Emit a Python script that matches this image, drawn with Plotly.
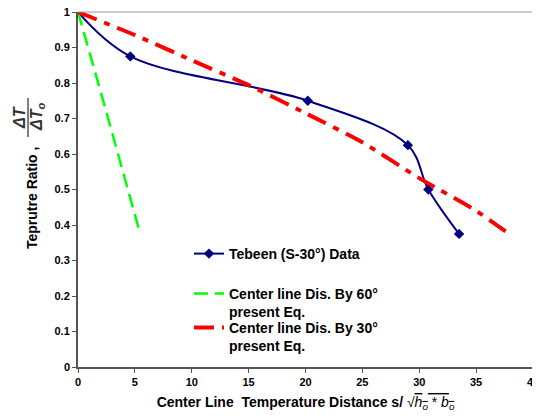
import plotly.graph_objects as go

# Data
tebeen_x = [0, 4.6, 20.2, 29.0, 30.8, 33.5]
tebeen_y = [1.0, 0.875, 0.75, 0.625, 0.5, 0.375]

green_x = [0, 2.2, 5.45]
green_y = [1.0, 0.752, 0.377]

red_x = [0, 5, 10, 15, 20, 25, 30, 35, 37.8]
red_y = [1.0, 0.935, 0.864, 0.794, 0.715, 0.633, 0.532, 0.44, 0.377]

x_ticks = [0, 5, 10, 15, 20, 25, 30, 35, 40]
y_ticks = [0, 0.1, 0.2, 0.3, 0.4, 0.5, 0.6, 0.7, 0.8, 0.9, 1]
y_ticklabels = ["0", "0.1", "0.2", "0.3", "0.4", "0.5", "0.6", "0.7", "0.8", "0.9", "1"]

FONT = "Liberation Sans, Arial, sans-serif"

# page body has an 8px margin: plot area target in window px = x 78..533, y 12..367
OFF = 8
W, H = 540 - OFF, 419 - OFF
PL, PR, PT, PB = 78, 533, 12, 367


def px(xw):
    return (xw - PL) / (PR - PL)


def py(yw):
    return (PB - yw) / (PB - PT)


fig = go.Figure()
fig.add_trace(go.Scatter(
    x=tebeen_x, y=tebeen_y, mode="lines+markers",
    name="<b>Tebeen (S-30°) Data</b>",
    line=dict(color="#000080", width=2, shape="spline", smoothing=1),
    marker=dict(symbol="diamond", size=8, color="#000080"),
    legend="legend"))
fig.add_trace(go.Scatter(
    x=green_x, y=green_y, mode="lines",
    name="<b>Center line Dis. By 60°<br>present Eq.</b>",
    line=dict(color="#00FF00", width=2.5, dash="14px,7px"),
    legend="legend2"))
fig.add_trace(go.Scatter(
    x=red_x, y=red_y, mode="lines",
    name="<b>Center line Dis. By 30°<br>present Eq.</b>",
    line=dict(color="#FF0000", width=4, dash="20px,8px,6px,8px", shape="spline", smoothing=0.6),
    legend="legend3"))

leg_common = dict(xanchor="left", yanchor="middle", bgcolor="rgba(0,0,0,0)",
                  font=dict(size=14, family=FONT, color="black"), itemwidth=30,
                  borderwidth=0, valign="top")

fig.update_layout(
    width=W, height=H,
    margin=dict(l=PL - OFF, r=(W + OFF) - PR, t=PT - OFF, b=(H + OFF) - PB),
    paper_bgcolor="white", plot_bgcolor="white",
    font=dict(family=FONT, size=11, color="black"),
    showlegend=True,
    legend=dict(x=px(189), y=py(254), **leg_common),
    legend2=dict(x=px(189), y=py(303), **leg_common),
    legend3=dict(x=px(189), y=py(337), **leg_common),
    xaxis=dict(range=[0, 40], tickmode="array", tickvals=x_ticks,
               ticktext=[str(v) for v in x_ticks],
               showgrid=False, zeroline=False, showline=True, linecolor="#555555", linewidth=2,
               ticks="outside", ticklen=4, tickcolor="#555555",
               tickfont=dict(size=11, weight="bold"),
               automargin=False, ticklabeloverflow="allow",
               title=dict(text="<b>Center Line  Temperature Distance s/</b> √<span style='text-decoration:overline'><i>h<sub>o</sub></i> * <i>b<sub>o</sub></i></span>",
                          font=dict(size=14), standoff=10)),
    yaxis=dict(range=[0, 1], tickmode="array", tickvals=y_ticks,
               ticktext=[""] + y_ticklabels[1:],
               showgrid=False, zeroline=False, showline=True, linecolor="#555555", linewidth=2,
               ticks="outside", ticklen=4, tickcolor="#555555",
               tickfont=dict(size=11, weight="bold"),
               automargin=False, ticklabeloverflow="allow"),
)

# y=0 tick label, drawn as a paper-referenced annotation at the axis corner
fig.add_annotation(text="<b>" + y_ticklabels[0] + "</b>", xref="paper", yref="paper",
                   x=px(72), y=0.0, xanchor="right", yanchor="middle",
                   showarrow=False, font=dict(size=11, family=FONT, color="#000000"))

# top and right frame lines
fig.add_shape(type="line", xref="paper", yref="paper", x0=0, x1=1, y0=1, y1=1,
              line=dict(color="#999999", width=1))
fig.add_shape(type="line", xref="paper", yref="paper", x0=1, x1=1, y0=0, y1=1,
              line=dict(color="#999999", width=2))

# Y-axis title: text plus fraction
fig.add_annotation(text="<b>Teprutre Ratio ,</b>", xref="paper", yref="paper",
                   x=px(32), y=py(198), xanchor="center", yanchor="middle",
                   textangle=-90, showarrow=False, font=dict(size=14, family=FONT))
fig.add_annotation(text="<b><i>ΔT</i></b>", xref="paper", yref="paper",
                   x=px(19), y=py(117), xanchor="center", yanchor="middle",
                   textangle=-90, showarrow=False, font=dict(size=16, family=FONT, color="#333333"))
fig.add_annotation(text="<b><i>ΔT<sub>o</sub></i></b>", xref="paper", yref="paper",
                   x=px(37), y=py(117), xanchor="center", yanchor="middle",
                   textangle=-90, showarrow=False, font=dict(size=16, family=FONT, color="#333333"))
fig.add_shape(type="line", xref="paper", yref="paper",
              x0=px(28), x1=px(28), y0=py(98), y1=py(137),
              line=dict(color="black", width=1))

fig.write_html("out.html")
